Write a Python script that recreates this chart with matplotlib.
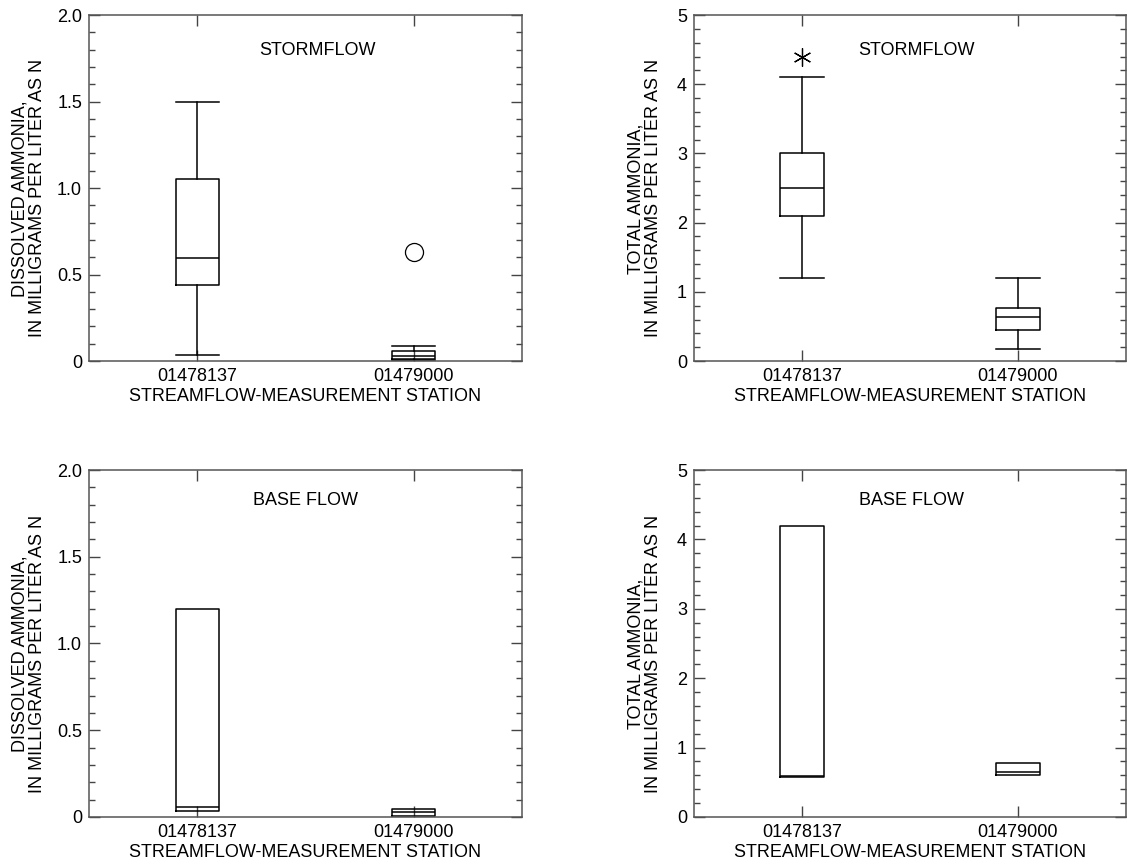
import matplotlib.pyplot as plt

plt.rcParams['font.family'] = ['Liberation Sans', 'DejaVu Sans']

# Stations on the x axis
stations = ['01478137', '01479000']

# Box statistics (whisker low, Q1, median, Q3, whisker high)
storm_dis_whislo = [0.035, 0.005]
storm_dis_q1 = [0.44, 0.01]
storm_dis_med = [0.595, 0.031]
storm_dis_q3 = [1.05, 0.057]
storm_dis_whishi = [1.50, 0.088]
storm_dis_fliers = [[], [0.63]]

storm_tot_whislo = [1.20, 0.17]
storm_tot_q1 = [2.10, 0.45]
storm_tot_med = [2.50, 0.64]
storm_tot_q3 = [3.00, 0.76]
storm_tot_whishi = [4.10, 1.20]
storm_tot_fliers = [[4.39], []]

base_dis_q1 = [0.035, 0.008]
base_dis_med = [0.056, 0.027]
base_dis_q3 = [1.20, 0.044]

base_tot_q1 = [0.57, 0.60]
base_tot_med = [0.59, 0.65]
base_tot_q3 = [4.20, 0.78]

# Axis ticks
dis_ticks = [0, 0.5, 1.0, 1.5, 2.0]
dis_labels = ['0', '0.5', '1.0', '1.5', '2.0']
dis_minor = [0.1, 0.2, 0.3, 0.4, 0.6, 0.7, 0.8, 0.9,
             1.1, 1.2, 1.3, 1.4, 1.6, 1.7, 1.8, 1.9]
tot_ticks = [0, 1, 2, 3, 4, 5]
tot_labels = ['0', '1', '2', '3', '4', '5']
tot_minor = [0.2, 0.4, 0.6, 0.8, 1.2, 1.4, 1.6, 1.8, 2.2, 2.4, 2.6, 2.8,
             3.2, 3.4, 3.6, 3.8, 4.2, 4.4, 4.6, 4.8]

xlabel = 'STREAMFLOW-MEASUREMENT STATION'
ylabel_dis = 'DISSOLVED AMMONIA,\nIN MILLIGRAMS PER LITER AS N'
ylabel_tot = 'TOTAL AMMONIA,\nIN MILLIGRAMS PER LITER AS N'


def make_stats(whislo, q1, med, q3, whishi, fliers):
    stats = []
    for i in range(len(q1)):
        stats.append({'whislo': whislo[i], 'q1': q1[i], 'med': med[i],
                      'q3': q3[i], 'whishi': whishi[i], 'fliers': fliers[i]})
    return stats


def draw_panel(ax, stats, showcaps, flier_marker, ticks, labels, minor,
               ylabel, ylabel_x, title, title_xy):
    line = dict(color='black', linewidth=1.1)
    ax.bxp(stats, positions=[1, 2], widths=0.2, capwidths=0.2,
           showcaps=showcaps, showfliers=True,
           boxprops=line, whiskerprops=line, capprops=line,
           medianprops=line,
           flierprops=dict(marker=flier_marker, markersize=13,
                           markerfacecolor='none', markeredgecolor='black',
                           markeredgewidth=0.9))
    ax.set_xlim(0.5, 2.5)
    ax.set_ylim(ticks[0], ticks[-1])
    ax.set_xticks([1, 2])
    ax.set_xticklabels(stations, fontsize=13)
    ax.set_yticks(ticks)
    ax.set_yticklabels(labels, fontsize=13)
    ax.set_yticks(minor, minor=True)
    ax.tick_params(which='both', direction='in', top=True, right=True,
                   color='#444444', width=1.0)
    ax.tick_params(which='major', length=8, pad=5)
    ax.tick_params(which='minor', length=4.5)
    for sp in ax.spines.values():
        sp.set_color('#555555')
        sp.set_linewidth(1.1)
    ax.set_xlabel(xlabel, fontsize=13, labelpad=2)
    ax.set_ylabel(ylabel, fontsize=13, linespacing=1.05)
    ax.yaxis.set_label_coords(ylabel_x, 0.47)
    ax.text(title_xy[0], title_xy[1], title, transform=ax.transAxes,
            ha='center', va='center', fontsize=13)


fig = plt.figure(figsize=(11.27, 8.67), dpi=100)
ax1 = fig.add_axes([0.079, 0.5836, 0.3842, 0.399])
ax2 = fig.add_axes([0.6158, 0.5836, 0.3833, 0.399])
ax3 = fig.add_axes([0.079, 0.0577, 0.3842, 0.4002])
ax4 = fig.add_axes([0.6158, 0.0577, 0.3833, 0.4002])

draw_panel(ax1, make_stats(storm_dis_whislo, storm_dis_q1, storm_dis_med,
                           storm_dis_q3, storm_dis_whishi, storm_dis_fliers),
           True, 'o', dis_ticks, dis_labels, dis_minor, ylabel_dis, -0.10,
           'STORMFLOW', (0.528, 0.899))
draw_panel(ax2, make_stats(storm_tot_whislo, storm_tot_q1, storm_tot_med,
                           storm_tot_q3, storm_tot_whishi, storm_tot_fliers),
           True, (6, 2, 0), tot_ticks, tot_labels, tot_minor, ylabel_tot,
           -0.074, 'STORMFLOW', (0.516, 0.899))
draw_panel(ax3, make_stats(base_dis_q1, base_dis_q1, base_dis_med,
                           base_dis_q3, base_dis_q3, [[], []]),
           False, 'o', dis_ticks, dis_labels, dis_minor, ylabel_dis, -0.10,
           'BASE FLOW', (0.50, 0.912))
draw_panel(ax4, make_stats(base_tot_q1, base_tot_q1, base_tot_med,
                           base_tot_q3, base_tot_q3, [[], []]),
           False, 'o', tot_ticks, tot_labels, tot_minor, ylabel_tot, -0.074,
           'BASE FLOW', (0.504, 0.912))

fig.savefig('out.png', dpi=100)
